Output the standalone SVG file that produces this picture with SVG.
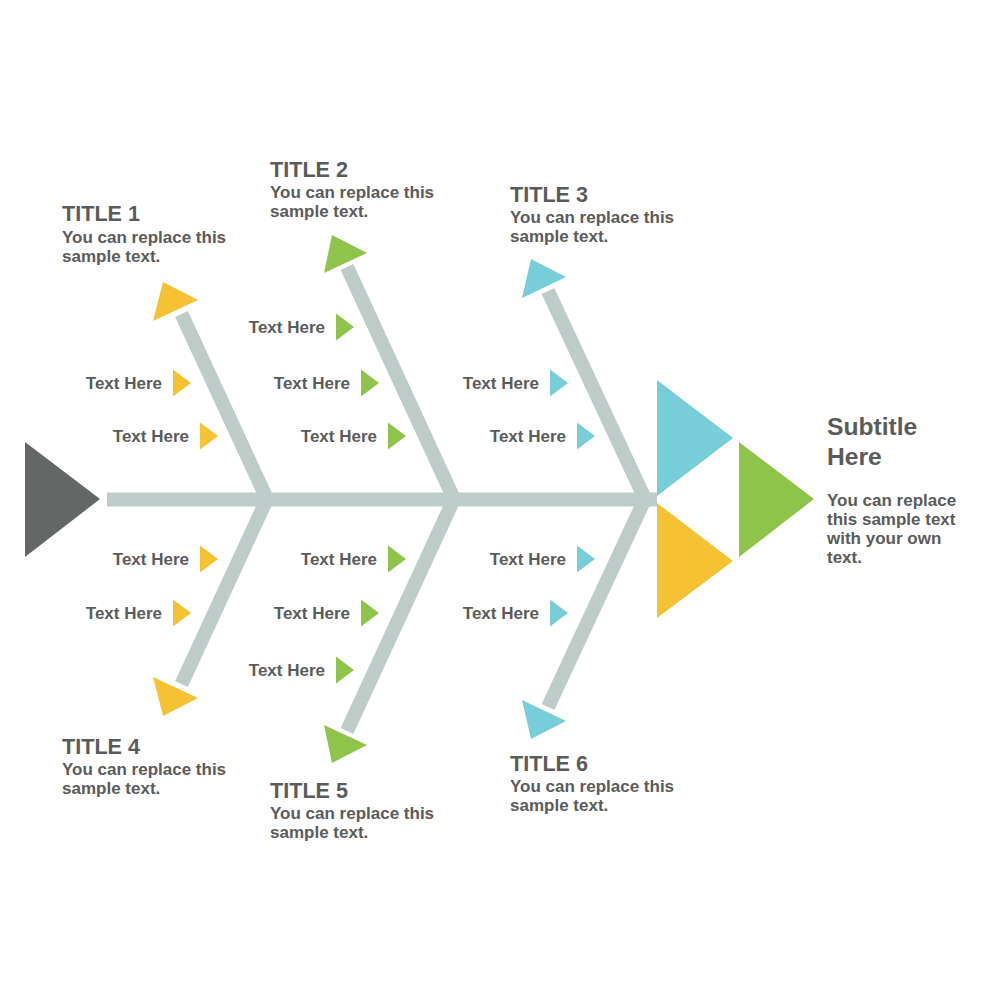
<svg xmlns="http://www.w3.org/2000/svg" width="1000" height="1000" viewBox="0 0 1000 1000">
  <style>
    .bone { fill: none; stroke: #bdcbc9; stroke-width: 14; stroke-linejoin: bevel; stroke-linecap: butt; }
    .y { fill: #f4c232; }
    .g { fill: #8fc44a; }
    .b { fill: #78ced8; }
    .dk { fill: #636866; }
    text { font-family: "Liberation Sans", Arial, sans-serif; font-weight: bold; fill: #5b5b5b; }
    .lbl { font-size: 17px; text-anchor: end; }
    .ttl { font-size: 21.6px; }
    .txt { font-size: 17px; }
    .sub { font-size: 24.6px; }
  </style>
  <defs>
    <polygon id="st" points="0,-13.5 0,13.5 18,0"/>
  </defs>
  <rect width="1000" height="1000" fill="#ffffff"/>

  <g id="connectors">
    <rect x="107" y="492.5" width="550" height="14" fill="#bdcbc9"/>
    <polyline class="bone" points="181.5,314 267,499 181.5,684"/>
    <polyline class="bone" points="347,267 454,499 347,731"/>
    <polyline class="bone" points="548,291 645,499 548,707"/>
  </g>

  <g id="head">
    <polygon class="dk" points="25,442 25,557 100,499"/>
  </g>

  <g id="tail">
    <polygon class="b" points="657,380 657,496 733,438"/>
    <polygon class="y" points="657,503 657,618 733,561"/>
    <polygon class="g" points="739,442 739,557 814,499"/>
  </g>

  <g id="node-1">
    <polygon class="y" points="153,321 163,282 198,300"/>
    <text class="ttl" x="62" y="221">TITLE 1</text>
    <text class="txt" x="62" y="243">You can replace this</text>
    <text class="txt" x="62" y="262">sample text.</text>
    <use href="#st" class="y" x="173" y="383"/>
    <text class="lbl" x="162" y="389">Text Here</text>
    <use href="#st" class="y" x="200" y="436"/>
    <text class="lbl" x="189" y="442">Text Here</text>
  </g>

  <g id="node-2">
    <polygon class="g" points="324,273 332,235 367,253"/>
    <text class="ttl" x="270" y="177">TITLE 2</text>
    <text class="txt" x="270" y="198">You can replace this</text>
    <text class="txt" x="270" y="217">sample text.</text>
    <use href="#st" class="g" x="336" y="327"/>
    <text class="lbl" x="325" y="333">Text Here</text>
    <use href="#st" class="g" x="361" y="383"/>
    <text class="lbl" x="350" y="389">Text Here</text>
    <use href="#st" class="g" x="388" y="436"/>
    <text class="lbl" x="377" y="442">Text Here</text>
  </g>

  <g id="node-3">
    <polygon class="b" points="522,298 531,259 566,277"/>
    <text class="ttl" x="510" y="202">TITLE 3</text>
    <text class="txt" x="510" y="223">You can replace this</text>
    <text class="txt" x="510" y="242">sample text.</text>
    <use href="#st" class="b" x="550" y="383"/>
    <text class="lbl" x="539" y="389">Text Here</text>
    <use href="#st" class="b" x="577" y="436"/>
    <text class="lbl" x="566" y="442">Text Here</text>
  </g>

  <g id="node-4">
    <polygon class="y" points="153,677 163,716 198,698"/>
    <text class="ttl" x="62" y="754">TITLE 4</text>
    <text class="txt" x="62" y="775">You can replace this</text>
    <text class="txt" x="62" y="794">sample text.</text>
    <use href="#st" class="y" x="200" y="559"/>
    <text class="lbl" x="189" y="565">Text Here</text>
    <use href="#st" class="y" x="173" y="613"/>
    <text class="lbl" x="162" y="619">Text Here</text>
  </g>

  <g id="node-5">
    <polygon class="g" points="324,725 332,763 367,745"/>
    <text class="ttl" x="270" y="798">TITLE 5</text>
    <text class="txt" x="270" y="819">You can replace this</text>
    <text class="txt" x="270" y="838">sample text.</text>
    <use href="#st" class="g" x="388" y="559"/>
    <text class="lbl" x="377" y="565">Text Here</text>
    <use href="#st" class="g" x="361" y="613"/>
    <text class="lbl" x="350" y="619">Text Here</text>
    <use href="#st" class="g" x="336" y="670"/>
    <text class="lbl" x="325" y="676">Text Here</text>
  </g>

  <g id="node-6">
    <polygon class="b" points="522,700 531,739 566,721"/>
    <text class="ttl" x="510" y="771">TITLE 6</text>
    <text class="txt" x="510" y="792">You can replace this</text>
    <text class="txt" x="510" y="811">sample text.</text>
    <use href="#st" class="b" x="577" y="559"/>
    <text class="lbl" x="566" y="565">Text Here</text>
    <use href="#st" class="b" x="550" y="613"/>
    <text class="lbl" x="539" y="619">Text Here</text>
  </g>

  <g id="subtitle">
    <text class="sub" x="827" y="435">Subtitle</text>
    <text class="sub" x="827" y="465">Here</text>
    <text class="txt" x="827" y="506">You can replace</text>
    <text class="txt" x="827" y="525">this sample text</text>
    <text class="txt" x="827" y="544">with your own</text>
    <text class="txt" x="827" y="563">text.</text>
  </g>
</svg>
